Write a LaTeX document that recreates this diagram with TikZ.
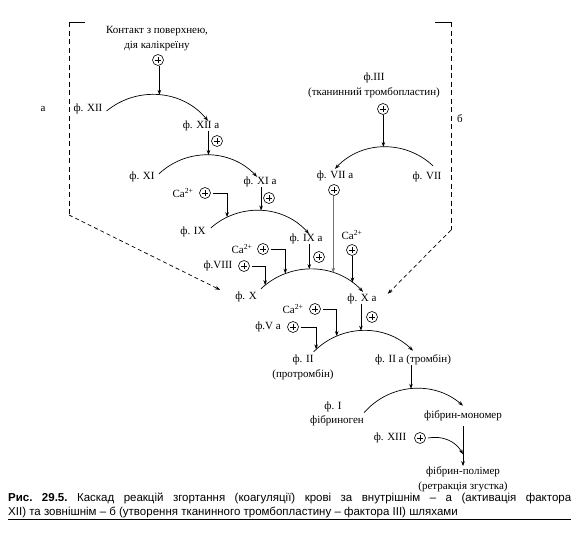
\documentclass[tikz,border=0pt]{standalone}
\usepackage{fontspec}
\setmainfont{Liberation Serif}
\newfontfamily\capfont{Liberation Sans}
\usetikzlibrary{arrows.meta}

\begin{document}
\begin{tikzpicture}[x=1pt,y=-1pt,>={Stealth[length=5pt,width=3.6pt]},
  lbl/.style={inner sep=0pt,font=\fontsize{11}{15}\selectfont},
  pl/.style={circle,draw,line width=0.6pt,inner sep=0pt,minimum size=11pt,
    path picture={\draw[line width=0.6pt] ([xshift=2.3pt]path picture bounding box.west) -- ([xshift=-2.3pt]path picture bounding box.east)
      ([yshift=-2.3pt]path picture bounding box.north) -- ([yshift=2.3pt]path picture bounding box.south);}},
  rx/.style={line width=0.7pt},
  cn/.style={->,line width=0.7pt},
  dsh/.style={line width=0.7pt,dash pattern=on 5pt off 3.5pt},
  dshd/.style={line width=0.7pt,dash pattern=on 4pt off 3pt}]
  \useasboundingbox (0,0) rectangle (579,533);

  % внутрішній шлях
  \node[lbl,align=center] (cont) at (157,39) {Контакт з поверхнею,\\дія калікреїну};
  \node[pl] (p0) at (158,60) {};
  \node[lbl] (f12) at (88,109) {ф. XII};
  \node[lbl] (f12a) at (201,126) {ф. XII а};
  \node[pl] (p12a) at (217,141) {};
  \node[lbl] (f11) at (142,177) {ф. XI};
  \node[lbl] (f11a) at (260,182) {ф. XI а};
  \node[pl] (p11a) at (269,198) {};
  \node[lbl] (ca1) at (183,193) {Ca\textsuperscript{2+}};
  \node[pl] (pca1) at (205,193) {};
  \node[lbl] (f9) at (193,232) {ф. IX};
  \node[lbl] (f9a) at (306,239) {ф. IX а};
  \node[pl] (p9a) at (319,257) {};
  \node[lbl] (ca2) at (242,249) {Ca\textsuperscript{2+}};
  \node[pl] (pca2) at (263,249) {};
  \node[lbl] (f8) at (218,266) {ф.VIII};
  \node[pl] (p8) at (244,266) {};
  \node[lbl] (f10) at (246,297) {ф. X};
  \node[lbl] (f10a) at (362,299) {ф. X а};
  \node[pl] (p10a) at (372,317) {};

  % зовнішній шлях
  \node[lbl,align=center] (f3) at (374,85) {ф.III\\(тканинний тромбопластин)};
  \node[pl] (p3) at (383,109) {};
  \node[lbl] (f7) at (427,177) {ф. VII};
  \node[lbl] (f7a) at (335,176) {ф. VII а};
  \node[pl] (p7a) at (334,190) {};
  \node[lbl] (ca3) at (352,235) {Ca\textsuperscript{2+}};
  \node[pl] (pca3) at (352,250) {};

  % протромбін, фібриноген
  \node[lbl] (ca4) at (293,309) {Ca\textsuperscript{2+}};
  \node[pl] (pca4) at (315,309) {};
  \node[lbl] (f5a) at (268,327) {ф.V а};
  \node[pl] (p5a) at (293,327) {};
  \node[lbl] (f2) at (303,360) {ф. II};
  \node[lbl] (prot) at (303,375) {(протромбін)};
  \node[lbl] (f2a) at (413,360) {ф. II а (тромбін)};
  \node[lbl] (f1) at (333,407) {ф. I};
  \node[lbl] (fbg) at (337,421) {фібриноген};
  \node[lbl] (fmono) at (463,416) {фібрин-мономер};
  \node[lbl] (f13) at (390,438) {ф. XIII};
  \node[pl] (p13) at (420,438) {};
  \node[lbl,align=center] (fpoly) at (463,479) {фібрин-полімер\\(ретракція згустка)};
  \node[lbl] (la) at (43,109) {а};
  \node[lbl] (lb) at (460,119) {б};

  % дуги реакцій
  \draw[cn] ([xshift=4pt,yshift=-2pt]f12.east) to[bend left=45] coordinate[pos=0.5] (r1) ([xshift=7pt]f12a.north);
  \draw[cn] (r1 |- p0.south) -- (r1);
  \draw[cn] ([xshift=4pt,yshift=3pt]f11.east) to[bend left=45] coordinate[pos=0.5] (r2) ([xshift=-3pt]f11a.north);
  \draw[cn] (r2 |- f12a.south) -- (r2);
  \draw[cn] ([xshift=5pt,yshift=4pt]f9.east) to[bend left=45] coordinate[pos=0.175] (r3a) coordinate[pos=0.5] (r3b) ([xshift=3pt]f9a.north);
  \draw[cn] ([xshift=2pt]pca1.east) -| (r3a);
  \draw[cn] (r3b |- f11a.south) -- (r3b);
  \draw[cn] ([xshift=4pt,yshift=3pt]f10.north east) to[bend left=45]
    coordinate[pos=0.047] (r4a) coordinate[pos=0.25] (r4b) coordinate[pos=0.47] (r4c)
    coordinate[pos=0.69] (r4d) coordinate[pos=0.88] (r4e) ([xshift=1pt,yshift=2pt]f10a.north);
  \draw[cn] ([xshift=2pt]p8.east) -| (r4a);
  \draw[cn] ([xshift=2pt]pca2.east) -| (r4b);
  \draw[cn] (r4c |- f9a.south) -- (r4c);
  \draw[cn,black!55] (r4d |- p7a.south) -- (r4d);
  \draw[cn] (r4e |- pca3.south) -- (r4e);
  \draw[cn] ([xshift=6pt,yshift=6pt]f7.north) to[bend right=45] coordinate[pos=0.5] (r7) ([yshift=2pt]f7a.north);
  \draw[cn] (r7 |- p3.south) -- (r7);
  \draw[cn] ([yshift=3pt]f2.north east) to[bend left=45]
    coordinate[pos=0.03] (r5a) coordinate[pos=0.25] (r5b) coordinate[pos=0.48] (r5c) ([yshift=4pt]f2a.north);
  \draw[cn] ([xshift=2pt]p5a.east) -| (r5a);
  \draw[cn] ([xshift=2pt]pca4.east) -| (r5b);
  \draw[cn] (r5c |- f10a.south) -- (r5c);
  \draw[cn] ([yshift=3pt]fbg.north east) to[bend left=45] coordinate[pos=0.49] (r6) ([yshift=5pt]fmono.north);
  \draw[cn] (r6 |- f2a.south) -- (r6);
  \draw[cn] ([yshift=-5pt]fmono.south) -- coordinate[pos=0.7] (m13) (fpoly.north);
  \draw[cn] ([xshift=2pt]p13.east) to[out=10,in=120] (m13);

  % пунктирні шляхи а, б
  \coordinate (aT) at (85,22);
  \coordinate (aTL) at (69,22);
  \coordinate (aBL) at (69,215);
  \draw[rx] (aT) -- (aTL);
  \draw[dsh] (aTL) -- (aBL);
  \draw[dshd,->] (aBL) -- ([xshift=-15pt,yshift=2pt]f10.north west);
  \coordinate (bT) at (435,22);
  \coordinate (bTR) at (451,22);
  \coordinate (bBR) at (451,230);
  \draw[rx] (bT) -- (bTR);
  \draw[dsh] (bTR) -- (bBR);
  \draw[dshd,->] (bBR) -- ([xshift=11pt]f10a.north east);

  % підпис
  \node[font=\capfont\fontsize{11.5}{14}\selectfont\frenchspacing,text width=563pt,align=justify,inner sep=0pt,anchor=north west] (cap) at (8,493)
    {\textbf{Рис. 29.5.} Каскад реакцій згортання (коагуляції) крові за внутрішнім – а (активація фактора\linebreak XII) та зовнішнім – б (утворення тканинного тромбопластину – фактора III) шляхами};
  \draw[line width=0.8pt] ([yshift=-1.5pt]cap.south west) -- ([yshift=-1.5pt]cap.south east);
\end{tikzpicture}
\end{document}
